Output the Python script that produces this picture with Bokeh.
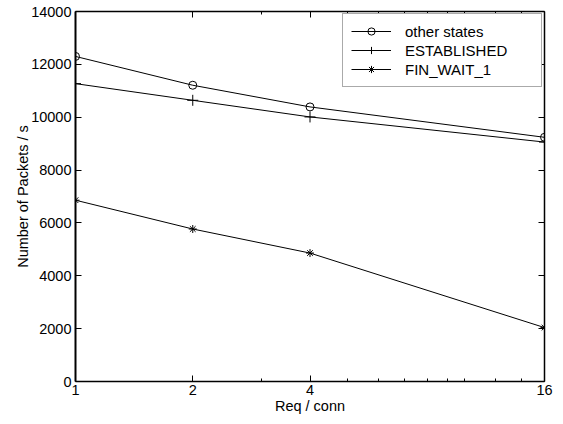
from bokeh.plotting import figure
from bokeh.models import FixedTicker, LinearAxis, LogAxis, Legend, LegendItem
from bokeh.embed import file_html
from bokeh.resources import INLINE

req = [1, 2, 4, 16]
other_states = [12300, 11210, 10390, 9240]
established = [11270, 10640, 10010, 9060]
fin_wait_1 = [6860, 5770, 4860, 2040]

x_ticks = [1, 2, 4, 16]
x_minor = [3, 5, 6, 7, 8, 9, 10, 12, 14]
y_ticks = [0, 2000, 4000, 6000, 8000, 10000, 12000, 14000]

FONT = "Liberation Sans"

p = figure(width=555, height=416, x_axis_type="log", x_range=(1, 16), y_range=(0, 14000),
           output_backend="svg", toolbar_location=None,
           min_border_left=75, min_border_right=11, min_border_top=11, min_border_bottom=34)
p.grid.visible = False
p.outline_line_color = None
p.background_fill_color = "white"
p.border_fill_color = "white"

def style_axis(ax, labels=True):
    ax.axis_line_color = "black"
    ax.axis_line_width = 1.5
    ax.major_tick_in = 6
    ax.major_tick_out = 0
    ax.minor_tick_in = 3
    ax.minor_tick_out = 0
    ax.major_tick_line_color = "black"
    ax.minor_tick_line_color = "black"
    ax.major_label_text_font = FONT
    ax.major_label_text_color = "black"
    ax.axis_label_text_font = FONT
    ax.axis_label_text_font_style = "normal"
    ax.axis_label_text_font_size = "14.5px"
    ax.axis_label_text_color = "black"
    if labels:
        ax.major_label_text_font_size = "14.5px"
    else:
        ax.major_label_text_font_size = "0px"
        ax.major_label_standoff = 0

xt = FixedTicker(ticks=x_ticks, minor_ticks=x_minor)
yt = FixedTicker(ticks=y_ticks, minor_ticks=[])

xa = p.xaxis[0]
xa.ticker = xt
xa.major_label_overrides = {t: str(t) for t in x_ticks}
xa.axis_label = "Req / conn"
style_axis(xa)
xa.major_label_standoff = 3
xa.axis_label_standoff = 0

ya = p.yaxis[0]
ya.ticker = yt
ya.axis_label = "Number of Packets / s"
style_axis(ya)
ya.axis_line_width = 2
ya.major_label_standoff = 4
ya.axis_label_standoff = -3

top = LogAxis(ticker=FixedTicker(ticks=x_ticks, minor_ticks=x_minor))
style_axis(top, labels=False)
top.major_label_overrides = {t: "" for t in x_ticks}
p.add_layout(top, "above")

right = LinearAxis(ticker=FixedTicker(ticks=y_ticks, minor_ticks=[]))
style_axis(right, labels=False)
right.major_label_overrides = {t: "" for t in y_ticks}
p.add_layout(right, "right")

l1 = p.line(req, other_states, line_color="black", line_width=1)
m1 = p.scatter(req, other_states, marker="circle", size=8, fill_color=None, line_color="black", line_width=1)
l2 = p.line(req, established, line_color="black", line_width=1)
m2 = p.scatter(req, established, marker="cross", size=11, line_color="black", line_width=1)
l3 = p.line(req, fin_wait_1, line_color="black", line_width=1)
m3 = p.scatter(req, fin_wait_1, marker="asterisk", size=8, line_color="black", line_width=1)

legend = Legend(items=[
    LegendItem(label="other states", renderers=[l1, m1]),
    LegendItem(label="ESTABLISHED", renderers=[l2, m2]),
    LegendItem(label="FIN_WAIT_1", renderers=[l3, m3]),
], location="top_right")
legend.margin = 2
legend.padding = 8
legend.spacing = 1
legend.glyph_width = 40
legend.glyph_height = 18
legend.label_height = 18
legend.label_width = 128
legend.label_standoff = 14
legend.label_text_font = FONT
legend.label_text_font_size = "15px"
legend.label_text_color = "black"
legend.border_line_color = "#555555"
legend.border_line_width = 1
legend.background_fill_color = "white"
legend.background_fill_alpha = 1
p.add_layout(legend, "center")

open("out.html", "w").write(file_html(p, INLINE))
